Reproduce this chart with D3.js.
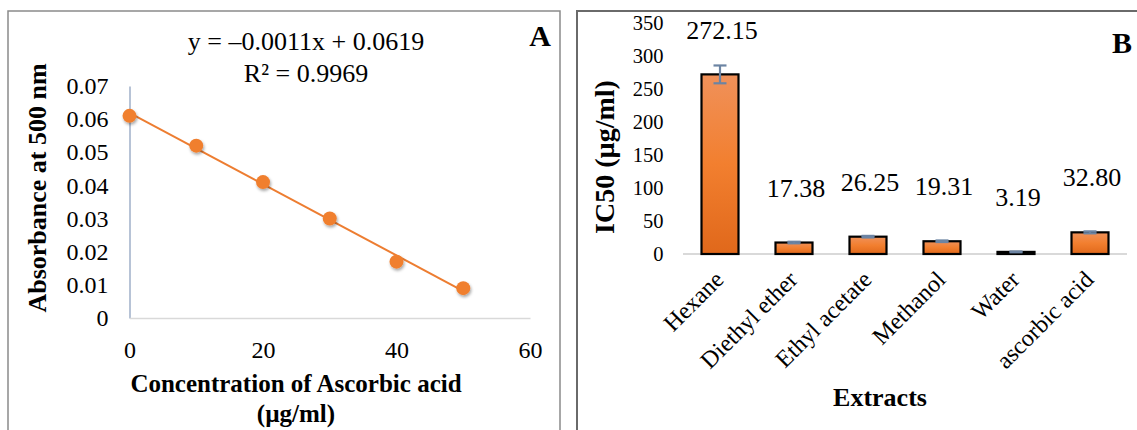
<!DOCTYPE html>
<html><head><meta charset="utf-8">
<script src="https://cdn.jsdelivr.net/npm/d3@7"></script>
<style>
body{margin:0;background:#fff}
svg{display:block;font-family:"Liberation Serif","Times New Roman",serif}
</style>
</head><body>
<svg id="c" width="1137" height="430"></svg>
<script>
// ---------- Data: panel A ----------
const concentrations = [0, 10, 20, 30, 40, 50];
const absorbance = [0.061, 0.052, 0.041, 0.030, 0.017, 0.009];
const yTicksA = [0, 0.01, 0.02, 0.03, 0.04, 0.05, 0.06, 0.07];
const xTicksA = [0, 20, 40, 60];
const equationText = "y = \u20130.0011x + 0.0619";
const r2Text = "R\u00B2 = 0.9969";
const titleA_y = "Absorbance at 500 nm";
const titleA_x1 = "Concentration of Ascorbic acid";
const titleA_x2 = "(\u00B5g/ml)";

// ---------- Data: panel B ----------
const extracts = ["Hexane", "Diethyl ether", "Ethyl acetate", "Methanol", "Water", "ascorbic acid"];
const ic50 = [272.15, 17.38, 26.25, 19.31, 3.19, 32.80];
const ic50Err = [13.5, 1.2, 1.2, 1.2, 0.6, 1.5];
const ic50Labels = ["272.15", "17.38", "26.25", "19.31", "3.19", "32.80"];
const yTicksB = [0, 50, 100, 150, 200, 250, 300, 350];
const titleB_y = "IC50 (\u00B5g/ml)";
const titleB_x = "Extracts";

const svg = d3.select("#c");
const defs = svg.append("defs");
const shadow = defs.append("filter").attr("id","sh").attr("x","-50%").attr("y","-50%").attr("width","200%").attr("height","200%");
shadow.append("feDropShadow").attr("dx",1).attr("dy",2).attr("stdDeviation",1.5).attr("flood-color","#000").attr("flood-opacity",0.35);
const grad = defs.append("linearGradient").attr("id","bg").attr("x1",0).attr("y1",0).attr("x2",0).attr("y2",1);
grad.append("stop").attr("offset","0%").attr("stop-color","#F0915A");
grad.append("stop").attr("offset","50%").attr("stop-color","#F27F2F");
grad.append("stop").attr("offset","100%").attr("stop-color","#E0681B");

// ---------- Panel borders ----------
svg.append("rect").attr("x",8).attr("y",11).attr("width",552).attr("height",440)
  .attr("fill","none").attr("stroke","#8a8a8a").attr("stroke-width",1.5);
svg.append("rect").attr("x",577).attr("y",11).attr("width",600).attr("height",440)
  .attr("fill","none").attr("stroke","#6a6a6a").attr("stroke-width",2);

// ---------- Panel A ----------
const xA = d3.scaleLinear().domain([0, 60]).range([129.5, 530]);
const yA = d3.scaleLinear().domain([0, 0.07]).range([318, 86]);
const gA = svg.append("g");

const yAxisA = gA.append("g").attr("transform", `translate(${xA(0)},0)`)
  .call(d3.axisLeft(yA).tickValues(yTicksA).tickSize(0).tickPadding(21)
    .tickFormat(d => d === 0 ? "0" : d.toFixed(2)));
yAxisA.select(".domain").attr("stroke","#B7C3D6").attr("stroke-width",2);
yAxisA.selectAll("text").attr("font-size",24).attr("font-family","Liberation Serif").attr("fill","#000");

const xAxisA = gA.append("g").attr("transform", `translate(0,${yA(0)})`)
  .call(d3.axisBottom(xA).tickValues(xTicksA).tickSize(0).tickPadding(23));
xAxisA.select(".domain").attr("stroke","#D9D9D9").attr("stroke-width",1.5);
xAxisA.selectAll("text").attr("font-size",24).attr("font-family","Liberation Serif").attr("fill","#000");

// trendline (least squares of the data)
const mx = d3.mean(concentrations), my = d3.mean(absorbance);
const slope = d3.sum(concentrations, (x,i) => (x-mx)*(absorbance[i]-my)) / d3.sum(concentrations, x => (x-mx)*(x-mx));
const intercept = my - slope*mx;
const xr = d3.extent(concentrations);
gA.append("line")
  .attr("x1", xA(xr[0])).attr("y1", yA(intercept + slope*xr[0]))
  .attr("x2", xA(xr[1])).attr("y2", yA(intercept + slope*xr[1]))
  .attr("stroke","#ED7D31").attr("stroke-width",2);

gA.selectAll("circle.pt").data(concentrations).join("circle").attr("class","pt")
  .attr("cx", d => xA(d)).attr("cy", (d,i) => yA(absorbance[i])).attr("r",7)
  .attr("fill","#F07F2E").attr("filter","url(#sh)");

gA.append("text").attr("x",306).attr("y",50).attr("text-anchor","middle").attr("font-size",26).text(equationText);
gA.append("text").attr("x",306).attr("y",82).attr("text-anchor","middle").attr("font-size",26).text(r2Text);
gA.append("text").attr("x",540).attr("y",46).attr("text-anchor","middle").attr("font-size",30).attr("font-weight","bold").text("A");

gA.append("text").attr("transform","translate(46,188) rotate(-90)").attr("text-anchor","middle")
  .attr("font-size",26).attr("font-weight","bold").text(titleA_y);
gA.append("text").attr("x",296).attr("y",392).attr("text-anchor","middle")
  .attr("font-size",25).attr("font-weight","bold").text(titleA_x1);
gA.append("text").attr("x",296).attr("y",422).attr("text-anchor","middle")
  .attr("font-size",25).attr("font-weight","bold").text(titleA_x2);

// ---------- Panel B ----------
const xB = d3.scaleBand().domain(extracts).range([683, 1127]).paddingInner(0.5).paddingOuter(0.25);
const yB = d3.scaleLinear().domain([0, 350]).range([254, 23]);
const gB = svg.append("g");

const yAxisB = gB.append("g").attr("transform", `translate(683,0)`)
  .call(d3.axisLeft(yB).tickValues(yTicksB).tickSize(0).tickPadding(19.5));
yAxisB.select(".domain").remove();
yAxisB.selectAll("text").attr("font-size",20.5).attr("font-family","Liberation Serif").attr("fill","#000");

gB.append("line").attr("x1",683).attr("x2",1127).attr("y1",yB(0)).attr("y2",yB(0))
  .attr("stroke","#D9D9D9").attr("stroke-width",2);

gB.selectAll("rect.bar").data(extracts).join("rect").attr("class","bar")
  .attr("x", d => xB(d)).attr("width", xB.bandwidth())
  .attr("y", (d,i) => yB(ic50[i])).attr("height", (d,i) => yB(0) - yB(ic50[i]))
  .attr("fill","url(#bg)").attr("stroke","#000").attr("stroke-width",2.2);

// error bars
const eb = gB.selectAll("g.eb").data(extracts).join("g").attr("class","eb")
  .attr("stroke","#6C84A3").attr("stroke-width",2.2);
eb.append("line").attr("x1", d => xB(d)+xB.bandwidth()/2).attr("x2", d => xB(d)+xB.bandwidth()/2)
  .attr("y1", (d,i) => yB(ic50[i]+ic50Err[i])).attr("y2", (d,i) => yB(ic50[i]-ic50Err[i]));
eb.append("line").attr("x1", d => xB(d)+xB.bandwidth()/2-6.5).attr("x2", d => xB(d)+xB.bandwidth()/2+6.5)
  .attr("y1", (d,i) => yB(ic50[i]+ic50Err[i])).attr("y2", (d,i) => yB(ic50[i]+ic50Err[i]));
eb.append("line").attr("x1", d => xB(d)+xB.bandwidth()/2-6.5).attr("x2", d => xB(d)+xB.bandwidth()/2+6.5)
  .attr("y1", (d,i) => yB(ic50[i]-ic50Err[i])).attr("y2", (d,i) => yB(ic50[i]-ic50Err[i]));

// value labels
gB.selectAll("text.val").data(extracts).join("text").attr("class","val")
  .attr("x", d => xB(d)+xB.bandwidth()/2+2)
  .attr("y", (d,i) => Math.max(yB(ic50[i]) - 46, yB(350) + 16))
  .attr("text-anchor","middle").attr("font-size",26).text((d,i) => ic50Labels[i]);

// category labels
gB.selectAll("text.cat").data(extracts).join("text").attr("class","cat")
  .attr("transform", d => `translate(${xB(d)+xB.bandwidth()/2+5},${yB(0)+27}) rotate(-45)`)
  .attr("text-anchor","end").attr("font-size",24).text(d => d);

gB.append("text").attr("transform","translate(614,157) rotate(-90)").attr("text-anchor","middle")
  .attr("font-size",28).attr("font-weight","bold").text(titleB_y);
gB.append("text").attr("x",880).attr("y",406).attr("text-anchor","middle")
  .attr("font-size",26).attr("font-weight","bold").text(titleB_x);
gB.append("text").attr("x",1122).attr("y",53).attr("text-anchor","middle")
  .attr("font-size",30).attr("font-weight","bold").text("B");
</script>
</body></html>
